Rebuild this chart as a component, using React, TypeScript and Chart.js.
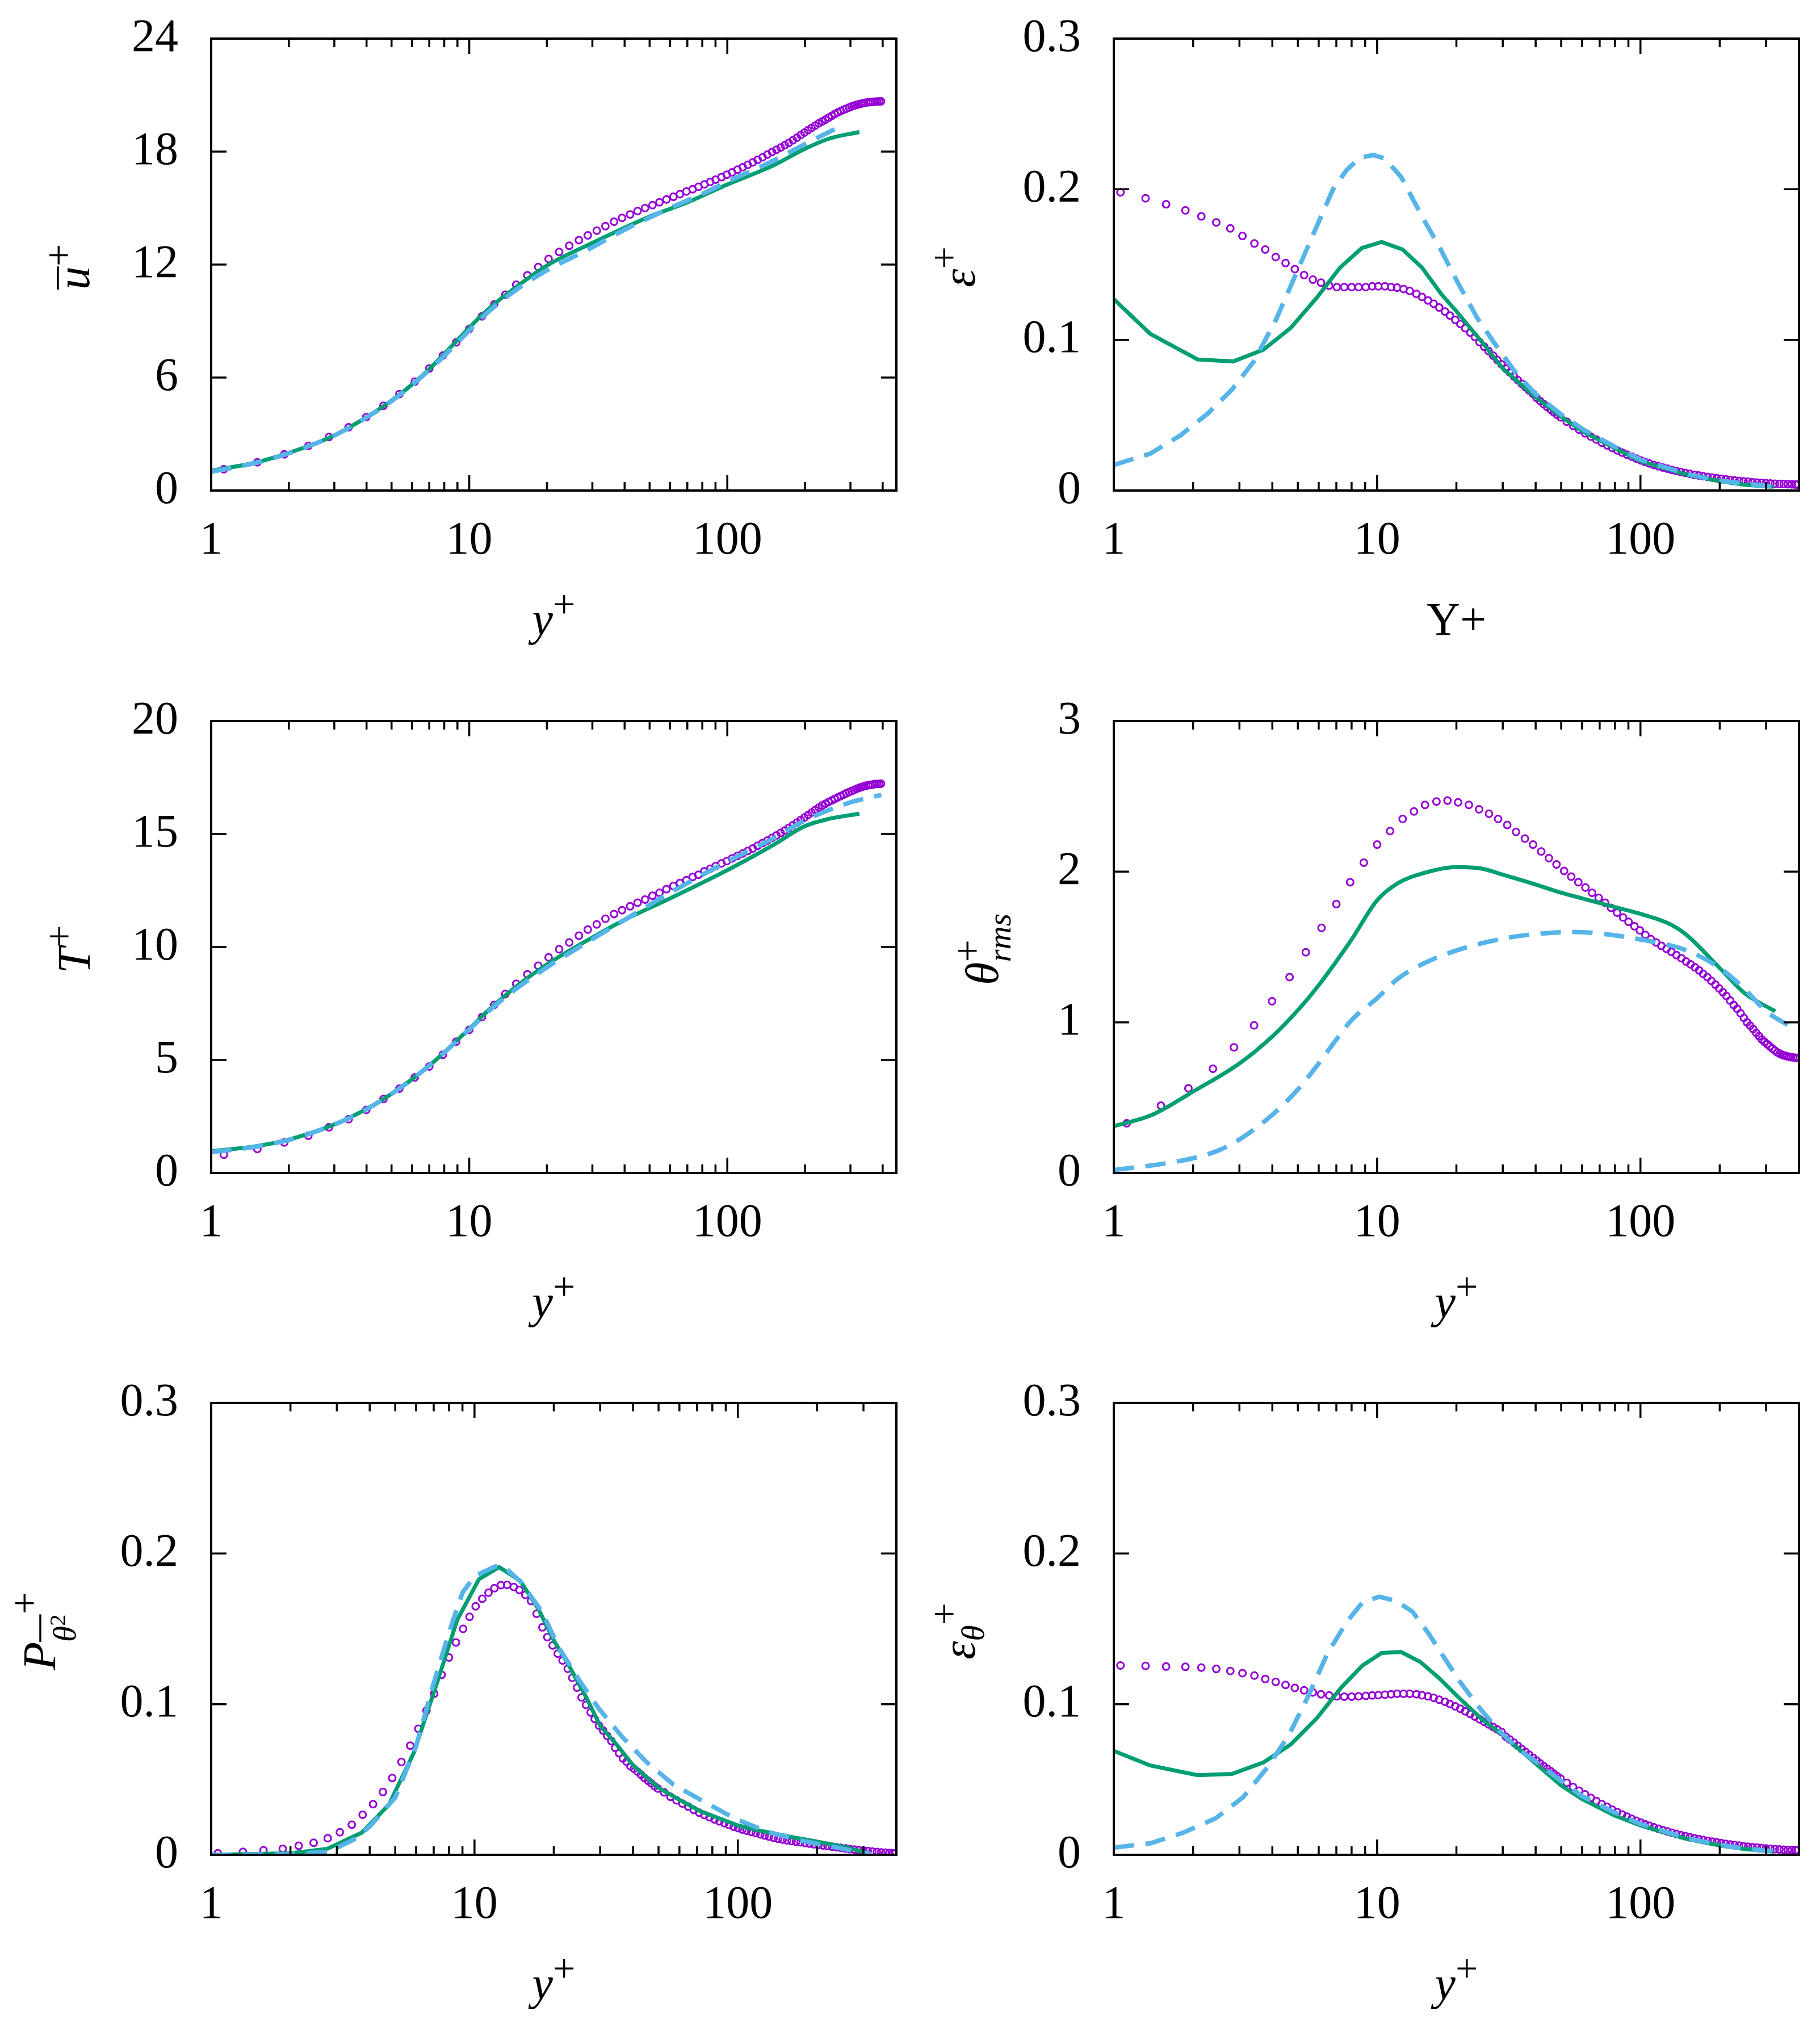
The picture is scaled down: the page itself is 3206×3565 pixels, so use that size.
import { useEffect, useRef } from 'react'
import { Chart, registerables } from 'chart.js'

Chart.register(...registerables)

const FONT = '"Liberation Serif", "Times New Roman", serif'
const SIZE = 82
const PURPLE = '#9400d3'
const GREEN = '#009e73'
const BLUE = '#56b4e9'

// canvas of one panel; the plot box sits at (372, 68) and is 1207 x 796
const W = 1609
const H = 1160
const BOX = { left: 372, top: 68, w: 1207, h: 796 }

const X_MAJOR = [1, 10, 100]
const X_MINOR = [2, 3, 4, 5, 6, 7, 8, 9, 20, 30, 40, 50, 60, 70, 80, 90, 200, 300, 400]

// DNS grid (circles) for u+, T+, theta_rms
const gridA = [
  1.12, 1.51, 1.92, 2.38, 2.86, 3.41, 3.99, 4.65, 5.36, 6.15, 7.0, 7.9, 8.9, 10.0, 11.2, 12.5, 13.8, 15.2, 16.8,
  18.5, 20.3, 22.3, 24.4, 26.6, 28.8, 31.2, 33.7, 36.4, 39.1, 42.0, 44.9, 48.0, 51.3, 54.6, 58.1, 61.8, 65.5, 69.4,
  73.4, 77.3, 81.5, 85.9, 90.1, 94.9, 99.5, 104.4, 109.5, 114.7, 120, 125.5, 131, 137, 143, 149, 155, 161, 167,
  173, 179.5, 186, 192.5, 199, 205.5, 212, 219, 226, 233, 240, 247, 254, 261, 268, 275, 282, 289, 296, 303, 310,
  317, 324, 331, 338, 345, 352, 359, 366, 373, 380, 387, 394,
]
// DNS grid (circles) for epsilon, production, epsilon_theta
const gridB = [
  1.06, 1.32, 1.58, 1.87, 2.15, 2.45, 2.77, 3.08, 3.42, 3.76, 4.12, 4.49, 4.87, 5.28, 5.7, 6.12, 6.57, 7.03, 7.5,
  8.0, 8.5, 9.05, 9.58, 10.1, 10.7, 11.3, 11.9, 12.6, 13.3, 14.1, 14.8, 15.6, 16.4, 17.2, 18.1, 18.9, 19.8, 20.7,
  21.6, 22.6, 23.5, 24.5, 25.5, 26.5, 27.6, 28.6, 29.7, 30.8, 31.9, 33.1, 34.2, 35.4, 36.6, 37.8, 39.1, 40.3, 41.6,
  42.9, 44.2, 45.6, 46.9, 48.3, 49.7, 52.5, 55.5, 58.5, 61.6, 64.8, 68, 71.3, 74.7, 78.1, 81.6, 85.2, 88.9, 92.6,
  96.4, 100.3, 104, 108, 112.5, 117, 121.7, 126.5, 131.5, 136.8, 142.3, 148, 153.9, 160, 166.4, 173, 180, 187.2,
  194.7, 202.5, 210.6, 219, 227.8, 236.9, 246.4, 256.2, 266.4, 277, 288, 299.5, 311.5, 324, 337, 350, 363, 376,
  388, 395,
]

// ---- mean velocity u+
const uDns = [
  1.13, 1.5, 1.92, 2.37, 2.84, 3.36, 3.9, 4.5, 5.12, 5.78, 6.48, 7.17, 7.87, 8.58, 9.25, 9.88, 10.4, 10.93, 11.43,
  11.87, 12.3, 12.67, 13.0, 13.3, 13.55, 13.8, 14.04, 14.28, 14.48, 14.66, 14.84, 15.0, 15.16, 15.31, 15.46, 15.6,
  15.74, 15.88, 16.0, 16.13, 16.26, 16.39, 16.51, 16.64, 16.77, 16.9, 17.04, 17.17, 17.3, 17.43, 17.56, 17.7, 17.84,
  17.98, 18.1, 18.22, 18.34, 18.46, 18.6, 18.74, 18.88, 19.01, 19.14, 19.26, 19.38, 19.5, 19.6, 19.7, 19.8, 19.9,
  20.0, 20.08, 20.15, 20.22, 20.28, 20.34, 20.4, 20.44, 20.48, 20.52, 20.55, 20.58, 20.6, 20.62, 20.63, 20.64,
  20.65, 20.66, 20.66, 20.67,
]
const uGreenX = [1, 1.5, 2, 3, 4, 5, 6, 7, 8, 10, 12, 15, 20, 30, 50, 70, 100, 150, 200, 250, 325]
const uGreenY = [1.05, 1.5, 2.0, 2.93, 3.9, 4.78, 5.63, 6.45, 7.25, 8.65, 9.7, 10.75, 11.95, 13.15, 14.55, 15.3, 16.25, 17.25, 18.15, 18.7, 19.04]
const uBlueX = [1, 1.5, 2, 3, 4, 5, 6, 7, 8, 10, 12, 15, 20, 28, 40, 60, 80, 100, 150, 200, 280]
const uBlueY = [1.0, 1.48, 1.98, 2.92, 3.88, 4.75, 5.6, 6.4, 7.15, 8.5, 9.55, 10.6, 11.7, 12.7, 13.85, 15.0, 15.75, 16.4, 17.5, 18.4, 19.4]
const uTicks = [0, 6, 12, 18, 24]

// ---- dissipation eps+
const epsDns = [
  0.198, 0.194, 0.19, 0.186, 0.182, 0.178, 0.174, 0.169, 0.164, 0.16, 0.155, 0.151, 0.147, 0.143, 0.14, 0.138, 0.136,
  0.135, 0.135, 0.135, 0.135, 0.135, 0.1356, 0.1356, 0.1356, 0.135, 0.1347, 0.1338, 0.1325, 0.1305, 0.1285, 0.1262,
  0.124, 0.1215, 0.1188, 0.1162, 0.1133, 0.1105, 0.1078, 0.1048, 0.102, 0.0985, 0.0955, 0.0926, 0.0895, 0.0867,
  0.0838, 0.081, 0.0784, 0.0757, 0.0733, 0.0709, 0.0686, 0.0664, 0.0642, 0.0615, 0.0594, 0.0574, 0.0555, 0.0536,
  0.0519, 0.0502, 0.0486, 0.0457, 0.0429, 0.0404, 0.038, 0.0358, 0.0338, 0.0318, 0.03, 0.0283, 0.0267, 0.0252,
  0.0238, 0.0225, 0.0212, 0.02, 0.019, 0.018, 0.017, 0.0161, 0.0153, 0.0145, 0.0137, 0.013, 0.0123, 0.0117, 0.0111,
  0.0105, 0.01, 0.0095, 0.009, 0.0086, 0.0082, 0.0078, 0.0074, 0.007, 0.0067, 0.0064, 0.0061, 0.0058, 0.0056,
  0.0053, 0.0051, 0.0049, 0.0047, 0.0045, 0.0044, 0.0043, 0.0042, 0.0041, 0.004, 0.004,
]
const epsGreenX = [1, 1.376, 2.08, 2.84, 3.7, 4.7, 5.9, 7.23, 8.75, 10.4, 12.5, 14.8, 17.6, 20, 25, 30, 40, 50, 60, 80, 100, 150, 200, 250, 320]
const epsGreenY = [0.127, 0.104, 0.087, 0.0857, 0.0935, 0.108, 0.128, 0.148, 0.161, 0.165, 0.16, 0.148, 0.13, 0.119, 0.0986, 0.081, 0.062, 0.049, 0.0395, 0.028, 0.0195, 0.0105, 0.0062, 0.0038, 0.0025]
const epsBlueX = [1, 1.376, 1.79, 2.27, 2.81, 3.4, 4.12, 4.87, 5.75, 6.8, 7.65, 8.6, 9.7, 10.7, 12.35, 14.8, 17.2, 20.1, 24, 27.7, 33.5, 40, 50, 60, 80, 100, 150, 200, 320]
const epsBlueY = [0.017, 0.0245, 0.0366, 0.051, 0.067, 0.0857, 0.113, 0.142, 0.171, 0.2, 0.2126, 0.221, 0.2227, 0.2204, 0.208, 0.182, 0.162, 0.139, 0.1145, 0.0986, 0.0785, 0.064, 0.0505, 0.041, 0.029, 0.0205, 0.011, 0.0065, 0.0025]
const epsTicks = [0, 0.1, 0.2, 0.3]

// ---- mean temperature T+
const tDns = [
  0.81, 1.06, 1.35, 1.65, 2.02, 2.38, 2.79, 3.27, 3.73, 4.23, 4.71, 5.23, 5.81, 6.33, 6.9, 7.44, 7.92, 8.37, 8.79,
  9.17, 9.54, 9.9, 10.2, 10.5, 10.77, 11.0, 11.25, 11.46, 11.63, 11.8, 11.96, 12.1, 12.27, 12.4, 12.56, 12.7, 12.83,
  12.96, 13.1, 13.2, 13.35, 13.46, 13.58, 13.7, 13.8, 13.92, 14.03, 14.14, 14.25, 14.36, 14.48, 14.6, 14.71, 14.83,
  14.94, 15.05, 15.16, 15.27, 15.39, 15.5, 15.62, 15.73, 15.84, 15.95, 16.06, 16.17, 16.26, 16.34, 16.42, 16.49,
  16.56, 16.62, 16.68, 16.74, 16.8, 16.85, 16.9, 16.95, 17.0, 17.04, 17.08, 17.11, 17.14, 17.16, 17.18, 17.19,
  17.21, 17.22, 17.22, 17.23,
]
const tGreenX = [1, 1.5, 2, 3, 4, 5, 7, 10, 12, 15, 20, 30, 40, 60, 100, 150, 200, 250, 325]
const tGreenY = [0.96, 1.19, 1.48, 2.15, 2.83, 3.5, 4.75, 6.38, 7.25, 8.2, 9.23, 10.42, 11.2, 12.15, 13.4, 14.5, 15.35, 15.68, 15.9]
const tBlueX = [1, 1.5, 2, 3, 4, 5, 7, 10, 12, 15, 20, 30, 40, 60, 100, 150, 200, 300, 395]
const tBlueY = [0.92, 1.17, 1.46, 2.14, 2.82, 3.5, 4.75, 6.35, 7.2, 8.1, 9.1, 10.35, 11.2, 12.4, 13.78, 14.8, 15.6, 16.4, 16.73]
const tTicks = [0, 5, 10, 15, 20]

// ---- temperature fluctuation theta_rms+
const thDns = [
  0.33, 0.447, 0.562, 0.692, 0.834, 0.98, 1.14, 1.3, 1.465, 1.627, 1.785, 1.93, 2.06, 2.18, 2.27, 2.35, 2.4, 2.443,
  2.466, 2.472, 2.46, 2.443, 2.414, 2.385, 2.35, 2.31, 2.264, 2.22, 2.18, 2.134, 2.09, 2.048, 2.005, 1.967, 1.93,
  1.895, 1.86, 1.826, 1.794, 1.76, 1.728, 1.696, 1.667, 1.638, 1.61, 1.58, 1.553, 1.53, 1.508, 1.488, 1.468, 1.446,
  1.426, 1.404, 1.385, 1.365, 1.345, 1.322, 1.3, 1.275, 1.25, 1.225, 1.2, 1.175, 1.145, 1.115, 1.09, 1.06, 1.03,
  1.0, 0.978, 0.955, 0.93, 0.908, 0.886, 0.87, 0.855, 0.84, 0.826, 0.812, 0.8, 0.792, 0.785, 0.779, 0.775, 0.772,
  0.769, 0.767, 0.765, 0.764,
]
const thGreenX = [1, 1.4, 2, 3, 4, 5, 6, 7, 8, 10, 12, 15, 20, 25, 30, 40, 50, 60, 80, 100, 130, 150, 200, 250, 325]
const thGreenY = [0.31, 0.386, 0.54, 0.727, 0.906, 1.08, 1.246, 1.405, 1.55, 1.81, 1.924, 1.99, 2.03, 2.02, 1.98, 1.915, 1.86, 1.823, 1.765, 1.72, 1.65, 1.578, 1.36, 1.19, 1.073]
const thBlueX = [1, 1.5, 2, 2.5, 3, 4, 5, 6, 7, 8, 10, 12, 15, 20, 30, 40, 55, 70, 100, 150, 200, 250, 300, 385]
const thBlueY = [0.02, 0.058, 0.098, 0.15, 0.222, 0.386, 0.554, 0.727, 0.886, 1.015, 1.16, 1.29, 1.39, 1.477, 1.555, 1.586, 1.6, 1.59, 1.55, 1.477, 1.36, 1.217, 1.073, 0.958]
const thTicks = [0, 1, 2, 3]

// ---- production of theta^2
const prodDns = [
  0.001, 0.002, 0.003, 0.004, 0.006, 0.008, 0.011, 0.015, 0.02, 0.0266, 0.0336, 0.0417, 0.051, 0.0616, 0.0725, 0.0837,
  0.0957, 0.107, 0.1195, 0.131, 0.141, 0.15, 0.158, 0.165, 0.17, 0.174, 0.177, 0.179, 0.1792, 0.1778, 0.1758, 0.1725,
  0.1685, 0.16, 0.151, 0.1445, 0.139, 0.1335, 0.129, 0.1235, 0.1175, 0.111, 0.1045, 0.0995, 0.0945, 0.0902, 0.0858,
  0.0825, 0.079, 0.0755, 0.071, 0.0675, 0.064, 0.0618, 0.0588, 0.0572, 0.0552, 0.0532, 0.051, 0.0492, 0.0475, 0.0455,
  0.044, 0.0415, 0.0385, 0.0362, 0.034, 0.032, 0.0298, 0.028, 0.0264, 0.0249, 0.0235, 0.0222, 0.021, 0.0198,
  0.0187, 0.0177, 0.0168, 0.016, 0.0152, 0.0144, 0.0136, 0.0128, 0.0121, 0.0113, 0.0106, 0.0101, 0.0096, 0.0091,
  0.0087, 0.0083, 0.0078, 0.0074, 0.007, 0.0066, 0.0062, 0.0058, 0.0054, 0.005, 0.0046, 0.0042, 0.0038, 0.0035,
  0.0031, 0.0028, 0.0025, 0.0022, 0.0019, 0.0016, 0.0014, 0.0012, 0.0011, 0.001,
]
const prodGreenX = [1, 2, 2.76, 3.73, 4.73, 5.88, 7.2, 8.6, 10.4, 12.4, 14.9, 17.5, 20.2, 22.6, 26.6, 30, 34.7, 40, 50, 60, 72, 100, 120, 160, 200, 250, 320]
const prodGreenY = [0, 0.001, 0.004, 0.0147, 0.0333, 0.0677, 0.114, 0.156, 0.183, 0.191, 0.182, 0.163, 0.141, 0.127, 0.1044, 0.0856, 0.073, 0.0595, 0.0445, 0.0365, 0.029, 0.0195, 0.0162, 0.0118, 0.0088, 0.0055, 0.0006]
const prodBlueX = [1, 2, 2.8, 3.5, 4, 5, 6, 7, 8, 9, 10, 12, 13, 15, 18, 21.1, 24.9, 29.7, 36.2, 44.9, 57, 74.3, 97.7, 130, 173, 250, 320]
const prodBlueY = [0, 0.0005, 0.002, 0.0104, 0.0188, 0.038, 0.072, 0.114, 0.1475, 0.174, 0.185, 0.1914, 0.191, 0.181, 0.1615, 0.1364, 0.1163, 0.0969, 0.0787, 0.0617, 0.0466, 0.0353, 0.024, 0.0152, 0.0095, 0.004, 0.0006]
const prodTicks = [0, 0.1, 0.2, 0.3]

// ---- dissipation of theta^2
const epsThDns = [
  0.1257, 0.1254, 0.125, 0.1248, 0.1243, 0.1234, 0.122, 0.1206, 0.119, 0.1167, 0.1148, 0.1128, 0.1108, 0.1092,
  0.1078, 0.1066, 0.1058, 0.1052, 0.105, 0.105, 0.1052, 0.1055, 0.1058, 0.106, 0.1063, 0.1066, 0.1069, 0.1069,
  0.1069, 0.1066, 0.1059, 0.1052, 0.1042, 0.103, 0.1016, 0.1001, 0.0986, 0.097, 0.0953, 0.0935, 0.0918, 0.09,
  0.0883, 0.0866, 0.0848, 0.0832, 0.0815, 0.0785, 0.0765, 0.0744, 0.0724, 0.0703, 0.0683, 0.0664, 0.0644, 0.0626,
  0.0607, 0.0589, 0.0572, 0.0555, 0.0539, 0.0522, 0.0507, 0.0478, 0.045, 0.0425, 0.0401, 0.0378, 0.0357, 0.0337,
  0.0318, 0.03, 0.0284, 0.0268, 0.0253, 0.0239, 0.0226, 0.0214, 0.0203, 0.0193, 0.0183, 0.0173, 0.0164, 0.0155,
  0.0147, 0.0139, 0.0131, 0.0124, 0.0117, 0.0111, 0.0105, 0.0099, 0.0093, 0.0088, 0.0083, 0.0078, 0.0073, 0.0069,
  0.0065, 0.0061, 0.0057, 0.0054, 0.0051, 0.0048, 0.0045, 0.0042, 0.004, 0.0038, 0.0036, 0.0034, 0.0033, 0.0032,
  0.0031, 0.0031,
]
const epsThGreenX = [1, 1.376, 2.08, 2.81, 3.7, 4.7, 5.9, 7.3, 8.8, 10.4, 12.35, 14.6, 17.2, 20.1, 25, 30, 40, 50, 60, 80, 100, 150, 200, 250, 320]
const epsThGreenY = [0.069, 0.0593, 0.0529, 0.0537, 0.0613, 0.0733, 0.0907, 0.111, 0.1257, 0.134, 0.1346, 0.128, 0.1173, 0.1055, 0.09, 0.0795, 0.0605, 0.046, 0.037, 0.026, 0.0195, 0.0105, 0.0062, 0.0038, 0.0022]
const epsThBlueX = [1, 1.376, 1.83, 2.44, 3.1, 3.83, 4.64, 5.48, 6.47, 7.66, 8.8, 10.2, 11.8, 13.6, 15.6, 18, 20.8, 24.6, 29, 35, 40, 50, 60, 80, 100, 150, 200, 250, 320]
const epsThBlueY = [0.0048, 0.0076, 0.0146, 0.0243, 0.0383, 0.058, 0.08, 0.1055, 0.1335, 0.1545, 0.1676, 0.1713, 0.1685, 0.1615, 0.1475, 0.1307, 0.114, 0.097, 0.0826, 0.069, 0.062, 0.049, 0.039, 0.028, 0.0205, 0.011, 0.0066, 0.004, 0.0024]
const epsThTicks = [0, 0.1, 0.2, 0.3]

// rich axis titles: it = italic, s = size factor, dy = baseline shift up (px), keep = next piece starts at same x
type Seg = { t: string; it?: boolean; s?: number; dy?: number; keep?: boolean; bar?: number; barSpan?: number }
const SUP: Seg = { t: '+', s: 0.85, dy: 30 }
const Y_PLUS: Seg[] = [{ t: 'y', it: true }, SUP]

type PanelSpec = {
  id: string
  left: number
  top: number
  xMax: number
  yTicks: number[]
  smooth: boolean
  dns: [number[], number[]]
  green: [number[], number[]]
  blue: [number[], number[]]
  xTitle: Seg[]
  yTitle: Seg[]
  yTitleAt: number
}

const PANELS: PanelSpec[] = [
  { id: 'u', left: 0, top: 0, xMax: 452, yTicks: uTicks, smooth: true, dns: [gridA, uDns], green: [uGreenX, uGreenY], blue: [uBlueX, uBlueY],
    xTitle: Y_PLUS, yTitle: [{ t: 'u', it: true, bar: 55 }, SUP], yTitleAt: 157 },
  { id: 'eps', left: 1590, top: 0, xMax: 400, yTicks: epsTicks, smooth: false, dns: [gridB, epsDns], green: [epsGreenX, epsGreenY], blue: [epsBlueX, epsBlueY],
    xTitle: [{ t: 'Y+' }], yTitle: [{ t: 'ε', it: true }, SUP], yTitleAt: 127 },
  { id: 'T', left: 0, top: 1202, xMax: 452, yTicks: tTicks, smooth: true, dns: [gridA, tDns], green: [tGreenX, tGreenY], blue: [tBlueX, tBlueY],
    xTitle: Y_PLUS, yTitle: [{ t: 'T', it: true }, SUP], yTitleAt: 158 },
  { id: 'th', left: 1590, top: 1202, xMax: 400, yTicks: thTicks, smooth: true, dns: [gridA, thDns], green: [thGreenX, thGreenY], blue: [thBlueX, thBlueY],
    xTitle: Y_PLUS, yTitle: [{ t: 'θ', it: true }, { ...SUP, keep: true }, { t: 'rms', it: true, s: 0.7, dy: -22 }], yTitleAt: 168 },
  { id: 'prod', left: 0, top: 2403, xMax: 400, yTicks: prodTicks, smooth: false, dns: [gridB, prodDns], green: [prodGreenX, prodGreenY], blue: [prodBlueX, prodBlueY],
    xTitle: Y_PLUS, yTitle: [{ t: 'P', it: true }, { t: 'θ', it: true, s: 0.7, dy: -36, bar: 26, barSpan: 2 }, { t: '2', s: 0.5, dy: -18 }, SUP], yTitleAt: 97 },
  { id: 'epsTh', left: 1590, top: 2403, xMax: 400, yTicks: epsThTicks, smooth: false, dns: [gridB, epsThDns], green: [epsThGreenX, epsThGreenY], blue: [epsThBlueX, epsThBlueY],
    xTitle: Y_PLUS, yTitle: [{ t: 'ε', it: true }, { t: 'θ', it: true, s: 0.7, dy: -16 }, SUP], yTitleAt: 127 },
]

const pts = (xs: number[], ys: number[]) => xs.slice(0, Math.min(xs.length, ys.length)).map((x, i) => ({ x, y: ys[i] }))

function layoutRich(ctx: CanvasRenderingContext2D, segs: Seg[]) {
  let x = 0
  let keepW = 0
  const items = segs.map((s) => {
    const font = `${s.it ? 'italic ' : ''}${Math.round(SIZE * (s.s ?? 1))}px ${FONT}`
    ctx.font = font
    const w = ctx.measureText(s.t).width
    const item = { s, x, w, font }
    if (s.keep) keepW = w
    else {
      x += Math.max(w, keepW)
      keepW = 0
    }
    return item
  })
  return { items, width: x }
}

function drawRich(ctx: CanvasRenderingContext2D, segs: Seg[], x0: number, y0: number) {
  const { items } = layoutRich(ctx, segs)
  items.forEach((it, i) => {
    ctx.font = it.font
    ctx.fillText(it.s.t, x0 + it.x, y0 - (it.s.dy ?? 0))
    if (it.s.bar != null) {
      const last = items[Math.min(items.length - 1, i + (it.s.barSpan ?? 1) - 1)]
      ctx.beginPath()
      ctx.lineWidth = 3.5
      ctx.moveTo(x0 + it.x, y0 - it.s.bar)
      ctx.lineTo(x0 + last.x + last.w, y0 - it.s.bar)
      ctx.stroke()
    }
  })
}

function makeChart(canvas: HTMLCanvasElement, p: PanelSpec) {
  const tickFont = { family: FONT, size: SIZE }
  const frame = {
    id: 'frame',
    afterDatasetsDraw(chart: Chart) {
      const { ctx, chartArea: a, scales } = chart
      ctx.save()
      ctx.strokeStyle = '#000'
      ctx.lineWidth = 3.5
      ctx.beginPath()
      for (const v of p.yTicks) {
        const py = scales.y.getPixelForValue(v)
        ctx.moveTo(a.left, py)
        ctx.lineTo(a.left + 27, py)
        ctx.moveTo(a.right, py)
        ctx.lineTo(a.right - 27, py)
      }
      const xt = (v: number, len: number) => {
        const px = scales.x.getPixelForValue(v)
        ctx.moveTo(px, a.bottom)
        ctx.lineTo(px, a.bottom - len)
        ctx.moveTo(px, a.top)
        ctx.lineTo(px, a.top + len)
      }
      X_MAJOR.forEach((v) => xt(v, 27))
      X_MINOR.filter((v) => v < p.xMax).forEach((v) => xt(v, 15))
      ctx.stroke()
      ctx.lineWidth = 4
      ctx.strokeRect(a.left, a.top, a.right - a.left, a.bottom - a.top)
      ctx.restore()
    },
  }
  const titles = {
    id: 'titles',
    afterDraw(chart: Chart) {
      const { ctx, chartArea: a } = chart
      ctx.save()
      ctx.fillStyle = '#000'
      ctx.strokeStyle = '#000'
      ctx.textAlign = 'left'
      ctx.textBaseline = 'alphabetic'
      const wx = layoutRich(ctx, p.xTitle).width
      drawRich(ctx, p.xTitle, (a.left + a.right) / 2 - wx / 2, a.bottom + 254)
      const wy = layoutRich(ctx, p.yTitle).width
      ctx.translate(p.yTitleAt, (a.top + a.bottom) / 2 + 4)
      ctx.rotate(-Math.PI / 2)
      drawRich(ctx, p.yTitle, -wy / 2, 0)
      ctx.restore()
    },
  }
  const yMin = p.yTicks[0]
  const yMax = p.yTicks[p.yTicks.length - 1]
  return new Chart(canvas, {
    type: 'scatter',
    data: {
      datasets: [
        {
          label: 'model B',
          data: pts(p.blue[0], p.blue[1]),
          showLine: true,
          pointRadius: 0,
          borderWidth: 8,
          borderColor: BLUE,
          borderDash: [36, 20],
          cubicInterpolationMode: p.smooth ? 'monotone' : 'default',
          order: 1,
        },
        {
          label: 'model A',
          data: pts(p.green[0], p.green[1]),
          showLine: true,
          pointRadius: 0,
          borderWidth: 7,
          borderColor: GREEN,
          cubicInterpolationMode: p.smooth ? 'monotone' : 'default',
          order: 2,
        },
        {
          label: 'DNS',
          data: pts(p.dns[0], p.dns[1]),
          showLine: false,
          pointStyle: 'circle',
          pointRadius: 6,
          pointBorderWidth: 3,
          pointBorderColor: PURPLE,
          pointBackgroundColor: 'rgba(0,0,0,0)',
          borderColor: PURPLE,
          backgroundColor: 'rgba(0,0,0,0)',
          order: 3,
        },
      ],
    },
    options: {
      animation: false,
      responsive: false,
      devicePixelRatio: 1,
      events: [],
      layout: { padding: { left: 0, top: BOX.top, right: W - BOX.left - BOX.w, bottom: H - BOX.top - BOX.h - 200 } },
      plugins: { legend: { display: false }, tooltip: { enabled: false }, title: { display: false } },
      scales: {
        x: {
          type: 'logarithmic',
          min: 1,
          max: p.xMax,
          grid: { display: false, drawTicks: false },
          border: { display: false },
          ticks: { font: tickFont, color: '#000', padding: 40, autoSkip: false, maxRotation: 0, callback: (v) => String(v) },
          afterBuildTicks: (s) => {
            s.ticks = X_MAJOR.map((value) => ({ value }))
          },
          afterFit: (s) => {
            s.height = 200
            s.paddingLeft = 0
            s.paddingRight = 0
          },
        },
        y: {
          type: 'linear',
          min: yMin,
          max: yMax,
          grid: { display: false, drawTicks: false },
          border: { display: false },
          ticks: { font: tickFont, color: '#000', padding: 58, autoSkip: false, callback: (v) => String(v) },
          afterBuildTicks: (s) => {
            s.ticks = p.yTicks.map((value) => ({ value }))
          },
          afterFit: (s) => {
            s.width = BOX.left
            s.paddingTop = 0
            s.paddingBottom = 0
          },
        },
      },
    },
    plugins: [frame, titles],
  } as any)
}

function Panel({ spec }: { spec: PanelSpec }) {
  const ref = useRef<HTMLCanvasElement>(null)
  useEffect(() => {
    if (!ref.current) return
    const chart = makeChart(ref.current, spec)
    return () => chart.destroy()
  }, [spec])
  return (
    <canvas
      ref={ref}
      width={W}
      height={H}
      style={{ position: 'absolute', left: spec.left, top: spec.top, width: W, height: H }}
    />
  )
}

export default function App() {
  return (
    <div style={{ position: 'absolute', left: 0, top: 0, width: 3206, height: 3565, background: '#fff', overflow: 'hidden' }}>
      {PANELS.map((p) => (
        <Panel key={p.id} spec={p} />
      ))}
    </div>
  )
}
